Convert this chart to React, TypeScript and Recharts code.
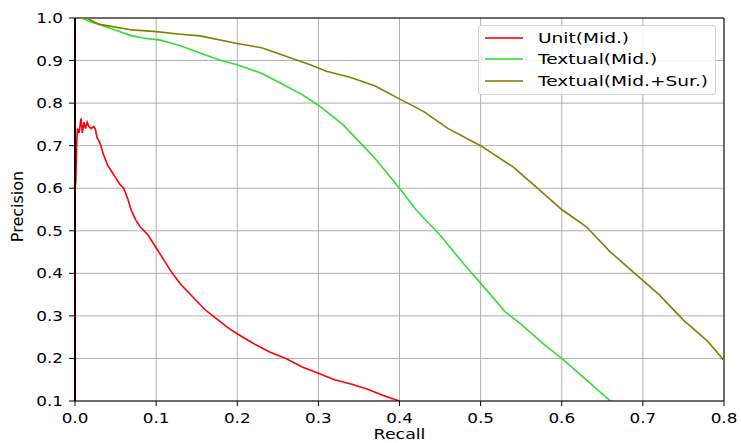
import { FC } from "react";
import {
  LineChart,
  Line,
  XAxis,
  YAxis,
  CartesianGrid,
  ReferenceLine,
  Label,
} from "recharts";

const unitRecall = [
  0, 0.001, 0.002, 0.003, 0.005, 0.0074, 0.009, 0.011, 0.013, 0.015, 0.017, 0.02, 0.023, 0.025,
  0.027, 0.031, 0.035, 0.04, 0.045, 0.05, 0.055, 0.06, 0.065, 0.07, 0.075, 0.08, 0.09, 0.1, 0.11,
  0.12, 0.13, 0.14, 0.15, 0.16, 0.17, 0.18, 0.19, 0.2, 0.22, 0.24, 0.26, 0.28, 0.3, 0.32, 0.34,
  0.36, 0.38, 0.4,
];
const unitPrecision = [
  0.6, 0.615, 0.7, 0.74, 0.73, 0.764, 0.73, 0.755, 0.74, 0.755, 0.745, 0.74, 0.745, 0.74, 0.72,
  0.705, 0.68, 0.655, 0.64, 0.625, 0.61, 0.6, 0.575, 0.545, 0.525, 0.51, 0.49, 0.46, 0.43, 0.4,
  0.375, 0.355, 0.335, 0.315, 0.3, 0.285, 0.27, 0.258, 0.235, 0.215, 0.2, 0.18, 0.165, 0.15, 0.14,
  0.128, 0.113, 0.1,
];

const textualRecall = [
  0.008, 0.014, 0.02, 0.03, 0.043, 0.055, 0.07, 0.084, 0.105, 0.13, 0.154, 0.18, 0.2, 0.23, 0.25,
  0.28, 0.3, 0.33, 0.35, 0.37, 0.4, 0.42, 0.45, 0.48, 0.5, 0.53, 0.55, 0.58, 0.6, 0.63, 0.66,
];
const textualPrecision = [
  1.0, 0.995, 0.99, 0.985, 0.976, 0.968, 0.958, 0.953, 0.948, 0.935, 0.918, 0.9, 0.89, 0.87, 0.85,
  0.82, 0.795, 0.75, 0.71, 0.67, 0.6, 0.55, 0.49, 0.42, 0.377, 0.31, 0.28, 0.23, 0.2, 0.15, 0.1,
];

const surRecall = [
  0.008, 0.014, 0.03, 0.043, 0.07, 0.1, 0.13, 0.154, 0.2, 0.23, 0.26, 0.29, 0.31, 0.34, 0.37, 0.4,
  0.43, 0.46, 0.5, 0.54, 0.57, 0.6, 0.63, 0.66, 0.69, 0.72, 0.75, 0.78, 0.8,
];
const surPrecision = [
  1.0, 1.0, 0.985, 0.981, 0.972, 0.968, 0.962, 0.958, 0.94, 0.93, 0.91, 0.89, 0.875, 0.86, 0.84,
  0.81, 0.78, 0.74, 0.7, 0.65, 0.6, 0.55, 0.51, 0.45, 0.4, 0.35, 0.29, 0.24, 0.195,
];

const xTicks = [0, 0.1, 0.2, 0.3, 0.4, 0.5, 0.6, 0.7, 0.8];
const yTicks = [0.1, 0.2, 0.3, 0.4, 0.5, 0.6, 0.7, 0.8, 0.9, 1.0];

const seriesNames = ["Unit(Mid.)", "Textual(Mid.)", "Textual(Mid.+Sur.)"];
const seriesColors = ["#ff0000", "#33dd33", "#808000"];

const toPoints = (xs: number[], ys: number[]) => xs.map((x, i) => ({ recall: x, precision: ys[i] }));

const series = [
  toPoints(unitRecall, unitPrecision),
  toPoints(textualRecall, textualPrecision),
  toPoints(surRecall, surPrecision),
];

const font = "'DejaVu Sans', sans-serif";
// the reference image is stretched sideways a bit, so text gets a horizontal scale
const stretch = 1.2;
const legendStretch = 1.28;

const XTick = (props: any) => {
  const { x, y, payload } = props;
  return (
    <text
      transform={`translate(${x},${y + 15}) scale(${stretch},1)`}
      textAnchor="middle"
      fontSize={14}
      fontFamily={font}
      fill="#000"
    >
      {Number(payload.value).toFixed(1)}
    </text>
  );
};

const YTick = (props: any) => {
  const { x, y, payload } = props;
  return (
    <text
      transform={`translate(${x},${y + 5}) scale(${stretch},1)`}
      textAnchor="end"
      fontSize={14}
      fontFamily={font}
      fill="#000"
    >
      {Number(payload.value).toFixed(1)}
    </text>
  );
};

const App: FC = () => {
  return (
    <div style={{ position: "absolute", left: 0, top: 0, width: 741, height: 443, fontFamily: font }}>
      <LineChart width={741} height={443} margin={{ top: 18, right: 17, left: 0, bottom: 0 }}>
        <CartesianGrid stroke="#b0b0b0" strokeWidth={1} />
        <XAxis
          type="number"
          dataKey="recall"
          domain={[0, 0.8]}
          ticks={xTicks}
          allowDataOverflow
          height={42}
          tick={<XTick />}
          tickSize={5}
          tickMargin={2}
          tickLine={{ stroke: "#000" }}
          axisLine={{ stroke: "#000" }}
        >
          <Label
            content={(p: any) => {
              const vb = p.viewBox || { x: 75, width: 649 };
              return (
                <text
                  transform={`translate(${vb.x + vb.width / 2},439) scale(${stretch},1)`}
                  textAnchor="middle"
                  fontSize={14.5}
                  fontFamily={font}
                  fill="#000"
                >
                  Recall
                </text>
              );
            }}
          />
        </XAxis>
        <YAxis
          type="number"
          domain={[0.1, 1.0]}
          ticks={yTicks}
          allowDataOverflow
          width={75}
          tick={<YTick />}
          tickSize={6}
          tickMargin={6}
          tickLine={{ stroke: "#000" }}
          axisLine={{ stroke: "#000" }}
        >
          <Label
            content={(p: any) => {
              const vb = p.viewBox || { y: 18, height: 383 };
              return (
                <text
                  transform={`translate(17,${vb.y + vb.height / 2 - 3}) rotate(-90)`}
                  textAnchor="middle"
                  dominantBaseline="central"
                  fontSize={16}
                  fontFamily={font}
                  fill="#000"
                >
                  Precision
                </text>
              );
            }}
          />
        </YAxis>
        <ReferenceLine y={1.0} stroke="#000" strokeWidth={1} />
        <ReferenceLine x={0.8} stroke="#000" strokeWidth={1} />
        {series.map((pts, i) => (
          <Line
            key={seriesNames[i]}
            data={pts}
            dataKey="precision"
            name={seriesNames[i]}
            type="linear"
            stroke={seriesColors[i]}
            strokeWidth={1.6}
            dot={false}
            isAnimationActive={false}
          />
        ))}
        <ReferenceLine x={0} stroke="#3a0000" strokeWidth={2} />
      </LineChart>
      <div
        style={{
          position: "absolute",
          left: 478,
          top: 25,
          width: 238,
          height: 70,
          background: "rgba(255,255,255,0.85)",
          border: "1px solid #d6d6d6",
          borderRadius: 3,
          boxSizing: "border-box",
          padding: "1px 0 0 6px",
          fontSize: 14.5,
          color: "#000",
        }}
      >
        {seriesNames.map((n, i) => (
          <div key={n} style={{ display: "flex", alignItems: "center", height: 21.5, whiteSpace: "nowrap" }}>
            <span style={{ display: "inline-block", width: 38, height: 2, background: seriesColors[i], opacity: 0.8, marginRight: 15 }} />
            <span style={{ display: "inline-block", transform: `scaleX(${legendStretch})`, transformOrigin: "left center" }}>{n}</span>
          </div>
        ))}
      </div>
    </div>
  );
};

export default App;
